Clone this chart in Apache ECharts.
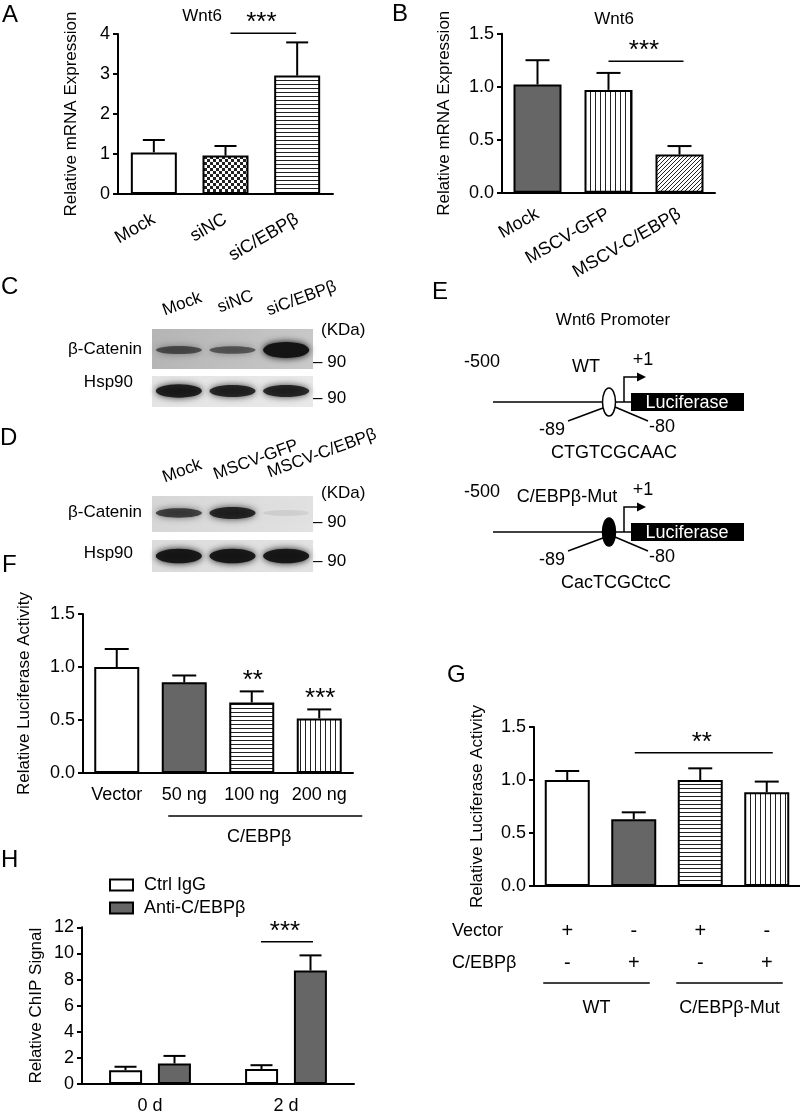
<!DOCTYPE html>
<html>
<head>
<meta charset="utf-8">
<script src="https://cdn.jsdelivr.net/npm/echarts@6/dist/echarts.min.js"></script>
<style>
html, body { margin: 0; background: #fff; }
#chart { width: 800px; height: 1115px; }
</style>
</head>
<body>
<div id="chart"></div>
<script>
// panel A - Wnt6 mRNA after knockdown
const aCats = ['Mock', 'siNC', 'siC/EBPβ'];
const aMean = [1.04, 0.96, 2.96];
const aSem = [0.31, 0.24, 0.83];
// panel B - Wnt6 mRNA after overexpression
const bCats = ['Mock', 'MSCV-GFP', 'MSCV-C/EBPβ'];
const bMean = [1.02, 0.97, 0.36];
const bSem = [0.23, 0.16, 0.08];
// panel F - luciferase, dose series
const fCats = ['Vector', '50 ng', '100 ng', '200 ng'];
const fMean = [1.0, 0.855, 0.665, 0.515];
const fSem = [0.17, 0.065, 0.105, 0.085];
const fStars = ['', '', '**', '***'];
// panel G - luciferase, WT vs mutant promoter
const gCats = ['WT Vector', 'WT C/EBPβ', 'Mut Vector', 'Mut C/EBPβ'];
const gVector = ['+', '-', '+', '-'];
const gCebpb = ['-', '+', '-', '+'];
const gGroups = ['WT', 'C/EBPβ-Mut'];
const gMean = [1.0, 0.63, 1.0, 0.885];
const gSem = [0.085, 0.065, 0.11, 0.10];
// panel H - ChIP
const hCats = ['0 d', '2 d'];
const hCtrl = [1.06, 1.14];
const hCtrlSem = [0.26, 0.30];
const hAnti = [1.57, 8.69];
const hAntiSem = [0.58, 1.16];
// western blots (band darkness 0..1)
const cLanes = ['Mock', 'siNC', 'siC/EBPβ'];
const cCatenin = [0.6, 0.55, 1.0];
const cHsp90 = [0.9, 0.85, 0.85];
const dLanes = ['Mock', 'MSCV-GFP', 'MSCV-C/EBPβ'];
const dCatenin = [0.7, 0.85, 0.08];
const dHsp90 = [0.95, 0.95, 0.95];

const FONT = '"Liberation Sans", Arial, sans-serif';
const TICK = 18;   // tick label size
const NAME = 17;   // axis title / annotation size

function pattern(kind) {
    const s = kind === 'checker' ? 6 : kind === 'vlines' ? 5 : 4;
    const c = document.createElement('canvas');
    c.width = s; c.height = s;
    const g = c.getContext('2d');
    g.fillStyle = '#fff'; g.fillRect(0, 0, s, s);
    g.fillStyle = '#222';
    if (kind === 'hlines') g.fillRect(0, 0, s, 1);
    else if (kind === 'vlines') g.fillRect(0, 0, 1, s);
    else if (kind === 'checker') { g.fillRect(0, 0, 3, 3); g.fillRect(3, 3, 3, 3); }
    else if (kind === 'diag') { for (let i = 0; i < s; i++) g.fillRect(i, s - 1 - i, 1, 1); }
    return { image: c, repeat: 'repeat' };
}

const fills = {
    white: '#fff', gray: '#666',
    hlines: pattern('hlines'), vlines: pattern('vlines'),
    checker: pattern('checker'), diag: pattern('diag')
};

function barData(means, keys) {
    return means.map((v, i) => ({ value: v, itemStyle: { color: fills[keys[i]] } }));
}

function barSeries(idx, data, width, extra) {
    return Object.assign({
        type: 'bar', xAxisIndex: idx, yAxisIndex: idx, data: data, barWidth: width,
        itemStyle: { borderColor: '#000', borderWidth: 2 }, silent: true
    }, extra || {});
}

// upward error bars
function errSeries(idx, means, sems, offset, capW) {
    return {
        type: 'custom', xAxisIndex: idx, yAxisIndex: idx, z: 3, silent: true,
        data: means.map((m, i) => [i, m, m + sems[i]]),
        encode: { x: 0, y: [1, 2] },
        renderItem: function (params, api) {
            const b = api.coord([api.value(0), api.value(1)]);
            const t = api.coord([api.value(0), api.value(2)]);
            const x = b[0] + offset;
            return {
                type: 'group', children: [
                    { type: 'line', shape: { x1: x, y1: b[1], x2: x, y2: t[1] }, style: { stroke: '#000', lineWidth: 2 } },
                    { type: 'line', shape: { x1: x - capW / 2, y1: t[1], x2: x + capW / 2, y2: t[1] }, style: { stroke: '#000', lineWidth: 2 } }
                ]
            };
        }
    };
}

function starText(text, x, y) {
    return { type: 'text', x: x, y: y + 5, style: { text: text, fill: '#000', fontSize: 26, fontFamily: FONT, align: 'center', verticalAlign: 'middle' } };
}

// significance bar between two categories
function sigSeries(idx, from, to, yv, text, dx0, dx1) {
    return {
        type: 'custom', xAxisIndex: idx, yAxisIndex: idx, z: 4, silent: true, clip: false,
        data: [[from, yv, to]],
        encode: { x: [0, 2], y: 1 },
        renderItem: function (params, api) {
            const p0 = api.coord([api.value(0), api.value(1)]);
            const p1 = api.coord([api.value(2), api.value(1)]);
            const x0 = p0[0] + dx0, x1 = p1[0] + dx1;
            return {
                type: 'group', children: [
                    { type: 'line', shape: { x1: x0, y1: p0[1], x2: x1, y2: p0[1] }, style: { stroke: '#000', lineWidth: 1.5 } },
                    starText(text, (x0 + x1) / 2 - 2, p0[1] - 15)
                ]
            };
        }
    };
}

function xAxis(idx, cats, label) {
    return {
        type: 'category', gridIndex: idx, data: cats,
        axisLine: { lineStyle: { color: '#000', width: 2 } },
        axisTick: { alignWithLabel: true, length: 6, lineStyle: { color: '#000', width: 2 } },
        axisLabel: Object.assign({ color: '#000', fontSize: TICK, fontFamily: FONT, interval: 0 }, label)
    };
}

function yAxis(idx, max, step, name, gap, dec) {
    return {
        type: 'value', gridIndex: idx, min: 0, max: max, interval: step,
        name: name, nameLocation: 'middle', nameGap: gap,
        nameTextStyle: { color: '#000', fontSize: NAME, fontFamily: FONT },
        axisLine: { show: true, lineStyle: { color: '#000', width: 2 } },
        axisTick: { show: true, length: 5, lineStyle: { color: '#000', width: 2 } },
        splitLine: { show: false },
        axisLabel: { color: '#000', fontSize: TICK, fontFamily: FONT, margin: 8,
            formatter: v => v.toFixed(dec) }
    };
}

// ---------- static drawings: letters, blots, promoter scheme ----------
function T(text, x, y, o) {
    o = o || {};
    return {
        type: 'text', x: x, y: y, rotation: o.rot || 0, silent: true,
        style: { text: text, fill: o.fill || '#000', fontSize: o.size || NAME, fontFamily: FONT,
            align: o.align || 'center', verticalAlign: o.va || 'middle' }
    };
}
function L(x1, y1, x2, y2, w) {
    return { type: 'line', silent: true, shape: { x1: x1, y1: y1, x2: x2, y2: y2 }, style: { stroke: '#000', lineWidth: w || 1.5 } };
}

const g = [];
[['A', 2, 15], ['B', 392, 14], ['C', 1, 287], ['D', 0, 438], ['E', 432, 292],
 ['F', 2, 565], ['G', 447, 675], ['H', 1, 860]].forEach(p => g.push(T(p[0], p[1], p[2], { size: 24, align: 'left' })));
g.push(T('Wnt6', 202, 16));
g.push(T('Wnt6', 614, 19));

function blot(x, y, w, h, bg1, bg2, dark, cy) {
    g.push({ type: 'rect', silent: true, shape: { x: x, y: y, width: w, height: h },
        style: { fill: new echarts.graphic.LinearGradient(0, 0, 1, 1, [{ offset: 0, color: bg1 }, { offset: 1, color: bg2 }]) } });
    const lw = w / dark.length;
    dark.forEach((a, i) => {
        g.push({ type: 'ellipse', silent: true,
            shape: { cx: x + lw * (i + 0.5), cy: cy, rx: lw * 0.43, ry: 3 + 5 * Math.pow(a, 3) },
            style: { fill: 'rgba(20,20,20,' + a + ')', shadowBlur: 7, shadowColor: 'rgba(0,0,0,' + a + ')' } });
    });
}
function blotLabels(lanes, x0, ys) {
    lanes.forEach((s, i) => g.push(T(s, x0[i], ys[i], { align: 'left', va: 'bottom', rot: 20 * Math.PI / 180 })));
}
// C
blotLabels(cLanes, [166, 221, 270], [319, 316, 319]);
blot(152, 329, 161, 40, '#b4b4b4', '#c9c9c9', cCatenin, 350);
blot(152, 376, 161, 31, '#e4e4e4', '#e9e9e9', cHsp90, 391);
g.push(T('β-Catenin', 142, 349, { align: 'right' }));
g.push(T('Hsp90', 133, 382, { align: 'right' }));
g.push(T('(KDa)', 321, 330, { align: 'left' }));
g.push(T('– 90', 313, 362, { align: 'left' }));
g.push(T('– 90', 313, 398, { align: 'left' }));
// D
blotLabels(dLanes, [166, 217, 271], [486, 483, 481]);
blot(152, 496, 161, 36, '#d6d6d6', '#e2e2e2', dCatenin, 513);
blot(152, 540, 161, 32, '#dcdcdc', '#e2e2e2', dHsp90, 556);
g.push(T('β-Catenin', 142, 512, { align: 'right' }));
g.push(T('Hsp90', 133, 553, { align: 'right' }));
g.push(T('(KDa)', 321, 493, { align: 'left' }));
g.push(T('– 90', 313, 522, { align: 'left' }));
g.push(T('– 90', 313, 561, { align: 'left' }));

// E promoter constructs
g.push(T('Wnt6 Promoter', 613, 320));
function construct(y0, filled, label, labelX, seq, seqX) {
    g.push(L(493, y0, 631, y0));
    g.push(L(603, y0 + 6, 568, y0 + 19));
    g.push(L(615, y0 + 5, 648, y0 + 19));
    g.push({ type: 'ellipse', silent: true, shape: { cx: 609, cy: y0, rx: 6.5, ry: 14 },
        style: { fill: filled ? '#000' : '#fff', stroke: '#000', lineWidth: 1.5 } });
    g.push({ type: 'polyline', silent: true, shape: { points: [[624, y0], [624, y0 - 25], [638, y0 - 25]] },
        style: { stroke: '#000', lineWidth: 1.5, fill: null } });
    g.push({ type: 'polygon', silent: true, shape: { points: [[637, y0 - 29.5], [646, y0 - 25], [637, y0 - 20.5]] }, style: { fill: '#000' } });
    g.push({ type: 'rect', silent: true, shape: { x: 631, y: y0 - 9, width: 113, height: 18 }, style: { fill: '#000' } });
    g.push(T('Luciferase', 687, y0 + 1, { fill: '#fff', size: 18 }));
    g.push(T('-89', 552, y0 + 28, { size: 18 }));
    g.push(T('-80', 662, y0 + 25, { size: 18 }));
    g.push(T(seq, seqX, y0 + 51, { size: 18 }));
    g.push(T('-500', 482, y0 - 40, { size: 18 }));
    g.push(T('+1', 643, y0 - 42, { size: 18 }));
    g.push(T(label, labelX, y0 - 35, { size: 18 }));
}
construct(402, false, 'WT', 586, 'CTGTCGCAAC', 614);
construct(532, true, 'C/EBPβ-Mut', 567, 'CacTCGCtcC', 616);

// G table row names
g.push(T('Vector', 452, 931, { align: 'left', size: 18 }));
g.push(T('C/EBPβ', 452, 963, { align: 'left', size: 18 }));

// group underline below an axis (F and G)
function groupSeries(idx, pairs, names, dx0, dx1, dy, textDy, textDx) {
    return {
        type: 'custom', xAxisIndex: idx, yAxisIndex: idx, clip: false, silent: true,
        data: pairs.map(p => [p[0], p[1], 0]),
        encode: { x: [0, 1], y: 2 },
        renderItem: function (params, api) {
            const p0 = api.coord([api.value(0), 0]);
            const p1 = api.coord([api.value(1), 0]);
            const x0 = p0[0] + dx0, x1 = p1[0] + dx1, y = p0[1] + dy;
            return {
                type: 'group', children: [
                    { type: 'line', shape: { x1: x0, y1: y, x2: x1, y2: y }, style: { stroke: '#000', lineWidth: 1.5 } },
                    { type: 'text', x: (x0 + x1) / 2 + textDx, y: p0[1] + textDy,
                      style: { text: names[params.dataIndex], fill: '#000', fontSize: 18, fontFamily: FONT, align: 'center', verticalAlign: 'middle' } }
                ]
            };
        }
    };
}

const chart = echarts.init(document.getElementById('chart'));
chart.setOption({
    backgroundColor: '#fff',
    animation: false,
    textStyle: { fontFamily: FONT },
    grid: [
        { left: 118, top: 34, width: 215, height: 160 },
        { left: 502, top: 33.7, width: 213, height: 159 },
        { left: 83, top: 614, width: 270, height: 159 },
        { left: 534, top: 727, width: 266, height: 159 },
        { left: 82, top: 927.3, width: 272, height: 158.4 }
    ],
    xAxis: [
        xAxis(0, aCats, { rotate: 30, margin: 24 }),
        xAxis(1, bCats, { rotate: 30, margin: 20 }),
        xAxis(2, fCats, { margin: 13 }),
        xAxis(3, gCats, { margin: 29, fontSize: 20, lineHeight: 32,
            formatter: (v, i) => gVector[i] + '\n' + gCebpb[i] }),
        xAxis(4, hCats, { margin: 13 })
    ],
    yAxis: [
        yAxis(0, 4, 1, 'Relative mRNA Expression', 38, 0),
        yAxis(1, 1.5, 0.5, 'Relative mRNA Expression', 49, 1),
        yAxis(2, 1.5, 0.5, 'Relative Luciferase Activity', 50, 1),
        yAxis(3, 1.5, 0.5, 'Relative Luciferase Activity', 48, 1),
        yAxis(4, 12, 2, 'Relative ChIP Signal', 37, 0)
    ],
    legend: {
        data: ['Ctrl IgG', 'Anti-C/EBPβ'], orient: 'vertical', left: 104, top: 871,
        icon: 'rect', itemWidth: 23, itemHeight: 11, itemGap: 5,
        itemStyle: { borderColor: '#000', borderWidth: 2 },
        textStyle: { color: '#000', fontSize: 18, fontFamily: FONT, padding: [0, 0, 0, 6] }
    },
    series: [
        barSeries(0, barData(aMean, ['white', 'checker', 'hlines']), 46),
        errSeries(0, aMean, aSem, 0, 22),
        sigSeries(0, 1, 2, 4.02, '***', 5, -1),

        barSeries(1, barData(bMean, ['gray', 'vlines', 'diag']), 48),
        errSeries(1, bMean, bSem, 0, 24),
        sigSeries(1, 1, 2, 1.24, '***', 0, 4),

        barSeries(2, barData(fMean, ['white', 'gray', 'hlines', 'vlines']), 45),
        errSeries(2, fMean, fSem, 0, 24),
        {
            type: 'custom', xAxisIndex: 2, yAxisIndex: 2, z: 4, silent: true, clip: false,
            data: fMean.map((m, i) => [i, m + fSem[i]]),
            renderItem: function (params, api) {
                const s = fStars[params.dataIndex];
                if (!s) return null;
                const p = api.coord([api.value(0), api.value(1)]);
                return starText(s, p[0] + 1, p[1] - 16);
            }
        },
        groupSeries(2, [[1, 3]], ['C/EBPβ'], -16, 43, 43, 64, -6),

        barSeries(3, barData(gMean, ['white', 'gray', 'hlines', 'vlines']), 45),
        errSeries(3, gMean, gSem, 0, 24),
        sigSeries(3, 1, 3, 1.257, '**', 1, 6),
        groupSeries(3, [[0, 1], [2, 3]], gGroups, -24, 16, 97, 122, 0),

        barSeries(4, hCtrl, 33, { name: 'Ctrl IgG', barGap: '48%', itemStyle: { color: '#fff', borderColor: '#000', borderWidth: 2 } }),
        barSeries(4, hAnti, 33, { name: 'Anti-C/EBPβ', barGap: '48%', itemStyle: { color: '#666', borderColor: '#000', borderWidth: 2 } }),
        errSeries(4, hCtrl, hCtrlSem, -24.5, 22),
        errSeries(4, hAnti, hAntiSem, 24.5, 22),
        sigSeries(4, 1, 1, 10.9, '***', -25, 27)
    ],
    graphic: g
});
</script>
</body>
</html>
